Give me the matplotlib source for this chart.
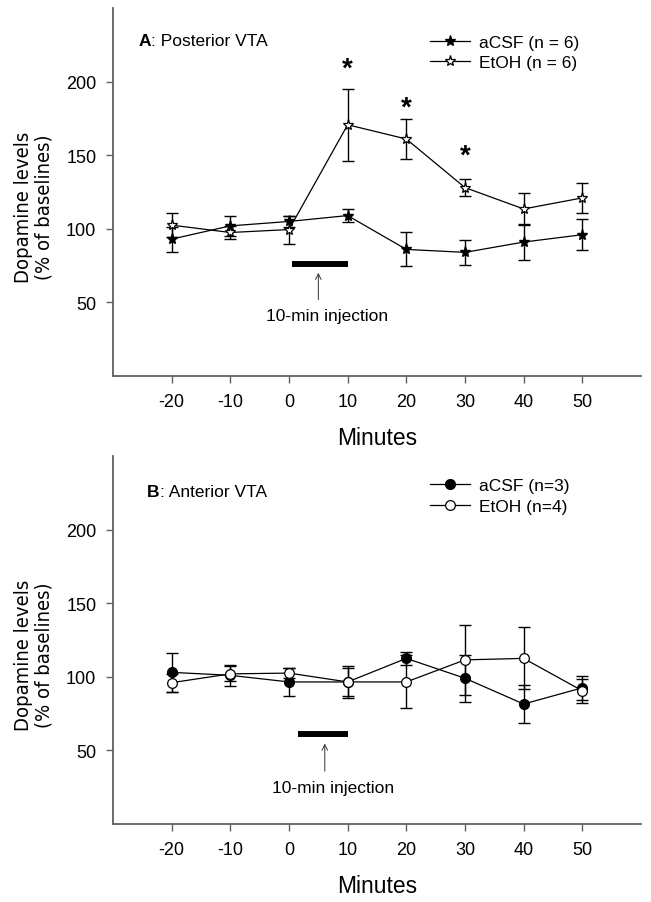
import numpy as np
import matplotlib
matplotlib.use("Agg")
import matplotlib.pyplot as plt
from matplotlib import font_manager

plt.rcParams['font.family'] = ['Liberation Sans', 'DejaVu Sans']
plt.rcParams['axes.unicode_minus'] = False

# the y label in the reference uses a narrow font; take a condensed one if there is one
ylab_font = dict(family='Liberation Sans', fontsize=13)
narrow = [f for f in font_manager.fontManager.ttflist
          if f.style == 'normal' and f.weight in (400, 'normal', 'regular')
          and ('Narrow' in f.name or 'Condensed' in f.name
               or str(f.stretch) in ('condensed', 'semi-condensed', '87.5', '75'))]
narrow.sort(key=lambda f: ('Liberation' not in f.name, 'Sans' not in f.name, f.name))
if narrow:
    ylab_font = dict(fontproperties=font_manager.FontProperties(fname=narrow[0].fname, size=14.5))

minutes = [-20, -10, 0, 10, 20, 30, 40, 50]

# panel A: posterior VTA
a_csf_mean = [93, 102, 105, 109, 86, 84, 91, 96]
a_csf_sem = [8.5, 7, 4, 4.6, 11.5, 8.5, 12, 10.5]
a_etoh_mean = [102.5, 97.5, 99.5, 170.7, 161, 128, 113.5, 121]
a_etoh_sem = [8, 4.5, 9.5, 24.3, 13.7, 5.7, 11, 10]
a_star_x = [10, 20, 30]
a_star_y = [209, 182, 150]

# panel B: anterior VTA
b_csf_mean = [103, 101, 96.5, 96.5, 112.5, 99, 81.5, 92.5]
b_csf_sem = [13, 7, 9.5, 11, 4.5, 16, 12.8, 8]
b_etoh_mean = [96, 102, 102.5, 96.5, 96.5, 111.5, 112.5, 90.5]
b_etoh_sem = [6, 5, 3.6, 9.5, 18, 24, 21, 8]

spine_col = '#606060'

fig = plt.figure(figsize=(6.51, 9.03), dpi=100)
axA = fig.add_axes([0.1736, 0.5825, 0.811, 0.4075])
axB = fig.add_axes([0.1736, 0.0864, 0.811, 0.4075])


def draw_panel(ax, m1, s1, m2, s2, mk, lab1, lab2, title_b, title_rest, title_x, title_y,
               bar_x, bar_y, arr_x, arr_y0, arr_y1, txt_x, txt_y, leg_y):
    ax.errorbar(minutes, m1, yerr=s1, fmt='none', ecolor='black', elinewidth=1,
                capsize=4, capthick=1, zorder=2)
    ax.errorbar(minutes, m2, yerr=s2, fmt='none', ecolor='black', elinewidth=1,
                capsize=4, capthick=1, zorder=2)
    ms = 8 if mk == '*' else 7
    ax.plot(minutes, m1, color='black', lw=0.9, marker=mk, ms=ms,
            mfc='black', mec='black', label=lab1, zorder=3)
    ax.plot(minutes, m2, color='black', lw=0.9, marker=mk, ms=ms,
            mfc='white', mec='black', mew=0.9, label=lab2, zorder=4)

    ax.plot(bar_x, [bar_y, bar_y], color='black', lw=4.3, solid_capstyle='butt')
    ax.annotate('', xy=(arr_x, arr_y1), xytext=(arr_x, arr_y0),
                arrowprops=dict(arrowstyle='->', lw=0.7, color='#333333'))
    ax.text(txt_x, txt_y, '10-min injection', ha='center', va='center', fontsize=12.5)

    t = ax.text(title_x, title_y, title_b, transform=ax.transAxes,
                fontsize=12.5, fontweight='bold', va='center')
    ax.annotate(title_rest, xy=(1, 0.5), xycoords=t, fontsize=12.5,
                va='center', ha='left')

    ax.legend(loc='upper left', bbox_to_anchor=(0.600, leg_y), frameon=False,
              fontsize=12.5, handlelength=2.3, handletextpad=0.55,
              labelspacing=0.3, borderpad=0, borderaxespad=0)

    ax.set_xlim(-30, 60)
    ax.set_ylim(0, 250)
    ax.set_xticks(minutes)
    ax.set_yticks([50, 100, 150, 200])
    ax.tick_params(labelsize=13, length=5, width=1, color=spine_col, pad=7)
    for s in ['top', 'right']:
        ax.spines[s].set_visible(False)
    for s in ['left', 'bottom']:
        ax.spines[s].set_color(spine_col)
        ax.spines[s].set_linewidth(1.3)
    ax.set_xlabel('Minutes', fontsize=16.5, labelpad=12)
    ax.set_ylabel('Dopamine levels\n(% of baselines)', linespacing=1.1, **ylab_font)
    ax.yaxis.set_label_coords(-0.113, 0.46)


draw_panel(axA, a_csf_mean, a_csf_sem, a_etoh_mean, a_etoh_sem, '*',
           'aCSF (n = 6)', 'EtOH (n = 6)', 'A', ': Posterior VTA', 0.048, 0.911,
           [0.5, 10], 76, 5, 50, 72, 6.5, 41, 0.927)
for x, y in zip(a_star_x, a_star_y):
    axA.text(x, y, '*', ha='center', va='center', fontsize=20, fontweight='bold')

draw_panel(axB, b_csf_mean, b_csf_sem, b_etoh_mean, b_etoh_sem, 'o',
           'aCSF (n=3)', 'EtOH (n=4)', 'B', ': Anterior VTA', 0.065, 0.903,
           [1.6, 10], 61, 6.1, 34, 56.5, 7.5, 25, 0.940)

fig.savefig('out.png', dpi=100)
